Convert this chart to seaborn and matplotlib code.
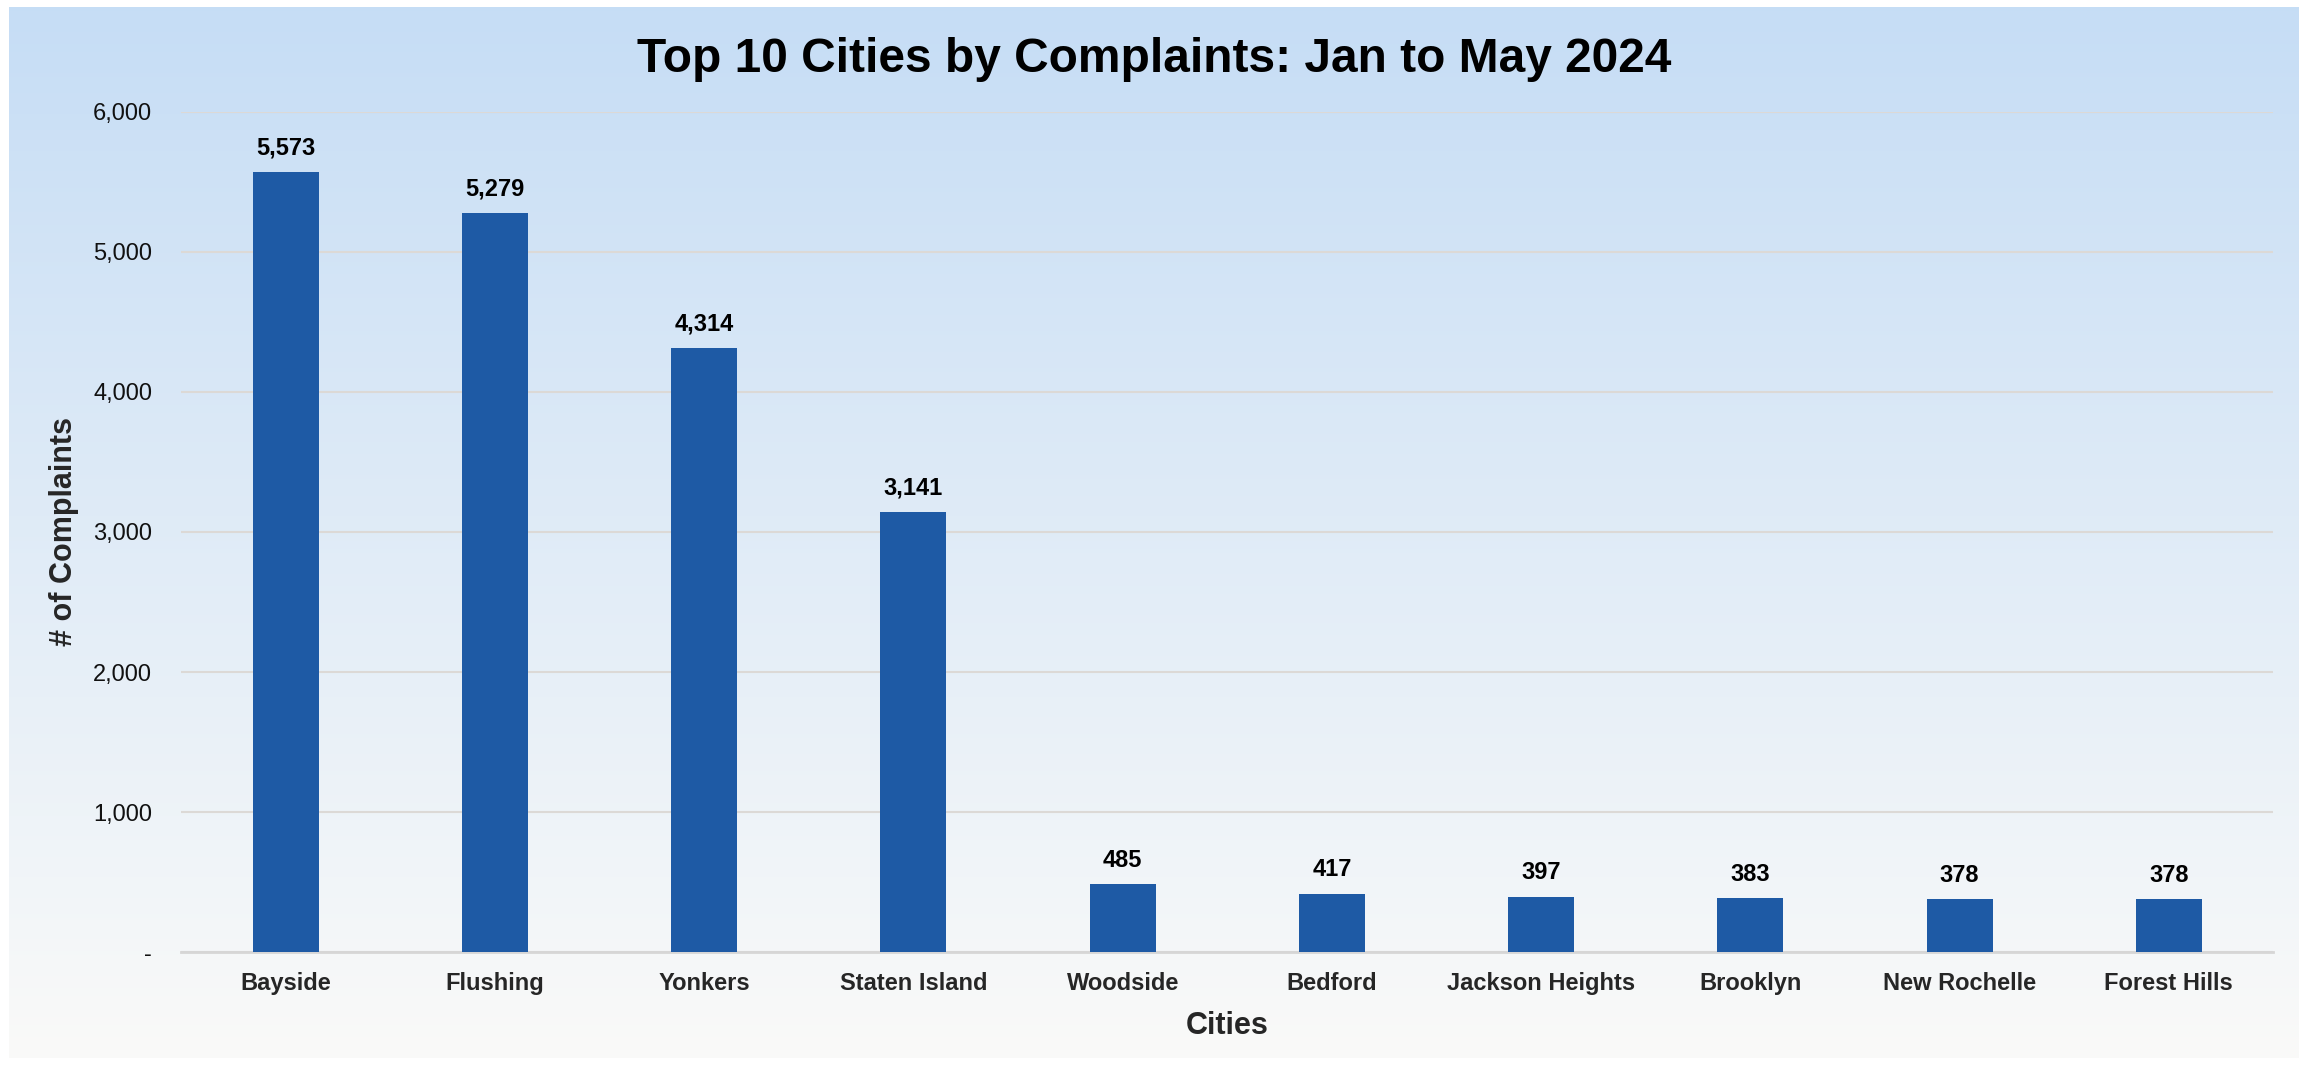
import numpy as np
import pandas as pd
import matplotlib.pyplot as plt
import seaborn as sns
from matplotlib.ticker import FuncFormatter

# dados do gráfico
cities = ["Bayside", "Flushing", "Yonkers", "Staten Island", "Woodside",
          "Bedford", "Jackson Heights", "Brooklyn", "New Rochelle", "Forest Hills"]
complaints = [5573, 5279, 4314, 3141, 485, 417, 397, 383, 378, 378]

df = pd.DataFrame({"City": cities, "Complaints": complaints})

sns.set_theme(style="white")
plt.rcParams["font.family"] = ["Liberation Sans", "DejaVu Sans"]

fig = plt.figure(figsize=(23.08, 10.65), dpi=100)
fig.patch.set_facecolor("white")

# fundo em degradê
bg = fig.add_axes([0.004, 0.007, 0.992, 0.986], zorder=0)
grad = np.linspace(0, 1, 256).reshape(-1, 1)
top = np.array([0.776, 0.867, 0.961])
bottom = np.array([0.980, 0.980, 0.976])
img = top + (bottom - top) * grad[..., None]
bg.imshow(img, aspect="auto", extent=[0, 1, 0, 1])
bg.axis("off")

ax = fig.add_axes([0.0785, 0.106, 0.9065, 0.789], zorder=1)
ax.patch.set_alpha(0)

sns.barplot(data=df, x="City", y="Complaints", color="#1e5aa5", width=0.315,
            saturation=1, linewidth=0, ax=ax, zorder=3)

ax.set_ylim(0, 6000)
ax.set_yticks(range(0, 6001, 1000))
ax.yaxis.set_major_formatter(FuncFormatter(lambda v, p: "-" if v == 0 else f"{v:,.0f}"))
ax.grid(axis="y", color="#dcd9d6", linewidth=1.5, zorder=0)
ax.set_axisbelow(True)
for s in ["top", "right", "left"]:
    ax.spines[s].set_visible(False)
ax.spines["bottom"].set_color("#d6d6d6")
ax.spines["bottom"].set_linewidth(2)

ax.tick_params(axis="y", length=0, pad=21, labelsize=17, labelcolor="#111111")
ax.tick_params(axis="x", length=0, pad=14, labelsize=17)
for lbl in ax.get_xticklabels():
    lbl.set_fontweight("bold")

for p in ax.patches:
    ax.annotate(f"{p.get_height():,.0f}", (p.get_x() + p.get_width() / 2, p.get_height()),
                xytext=(0, 9), textcoords="offset points", ha="center", va="bottom",
                fontsize=17, fontweight="bold", color="black")

ax.set_xlabel("Cities", fontsize=22, fontweight="bold", labelpad=12)
ax.set_ylabel("# of Complaints", fontsize=22, fontweight="bold", labelpad=10)
fig.text(0.5, 0.944, "Top 10 Cities by Complaints: Jan to May 2024", ha="center", va="center",
         fontsize=34.5, fontweight="bold", color="black")

plt.savefig("out.png", dpi=100)
